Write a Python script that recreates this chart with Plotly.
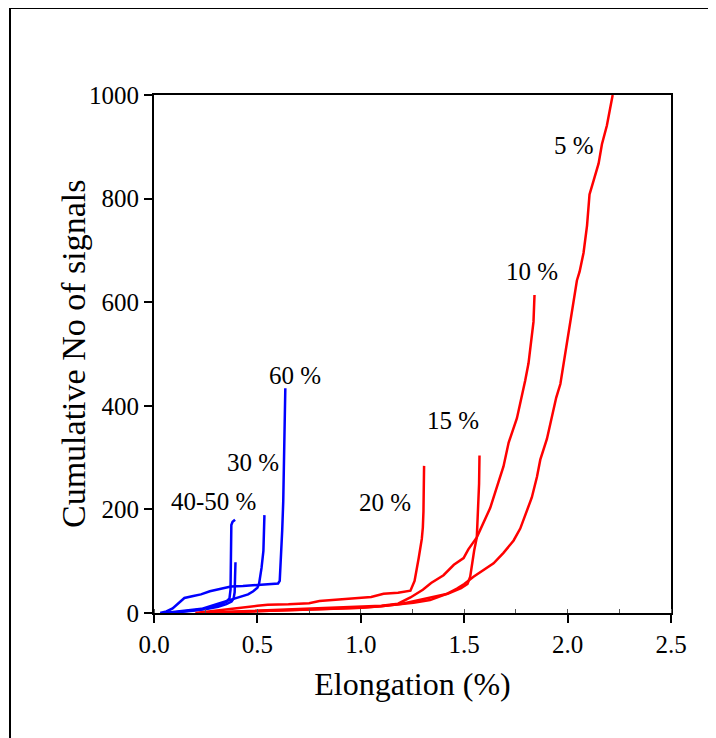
import plotly.graph_objects as go

# ---- data ----
x60 = [0.03, 0.06, 0.09, 0.115, 0.147, 0.19, 0.227, 0.27, 0.31, 0.372, 0.43, 0.50, 0.56, 0.60, 0.608, 0.615, 0.62, 0.625, 0.63, 0.635]
y60 = [0, 3, 9, 17, 29, 33, 36, 42, 46, 51, 52, 54, 55, 57, 62, 110, 160, 216, 377, 434]

x30 = [0.05, 0.1, 0.16, 0.23, 0.31, 0.36, 0.39, 0.42, 0.455, 0.48, 0.50, 0.508, 0.52, 0.529, 0.534]
y30 = [0, 2, 4, 8, 18, 24, 28, 32, 36, 42, 49, 56, 87, 120, 189]

x40 = [0.07, 0.12, 0.18, 0.23, 0.28, 0.32, 0.35, 0.365, 0.370, 0.372, 0.374, 0.38, 0.392]
y40 = [0, 2, 4, 7, 11, 16, 22, 28, 45, 100, 170, 176, 180]

x50 = [0.08, 0.14, 0.2, 0.26, 0.31, 0.35, 0.375, 0.385, 0.39, 0.392, 0.394]
y50 = [0, 2, 5, 8, 12, 17, 22, 28, 40, 70, 98]

x20 = [0.20, 0.25, 0.30, 0.40, 0.50, 0.55, 0.65, 0.75, 0.80, 0.86, 0.95, 1.05, 1.11, 1.18, 1.24, 1.26, 1.28, 1.295, 1.30, 1.303, 1.306]
y20 = [0, 2, 4, 9, 14, 16, 17, 19, 23, 25, 28, 31, 37, 39, 43, 62, 106, 143, 165, 196, 284]

x15 = [0.22, 0.4, 0.6, 0.8, 1.0, 1.1, 1.2, 1.27, 1.34, 1.42, 1.485, 1.516, 1.529, 1.538, 1.548, 1.561, 1.568, 1.572, 1.574]
y15 = [0, 2, 4, 7, 10, 13, 18, 24, 29, 37, 48, 56, 70, 95, 120, 146, 196, 250, 304]

x10 = [0.22, 0.4, 0.6, 0.8, 1.0, 1.1, 1.18, 1.24, 1.30, 1.34, 1.40, 1.45, 1.497, 1.52, 1.561, 1.626, 1.666, 1.69, 1.715, 1.755, 1.795, 1.811, 1.835, 1.839, 1.84]
y10 = [0, 3, 6, 9, 12, 14, 18, 30, 45, 58, 73, 93, 106, 123, 146, 203, 253, 283, 329, 376, 449, 482, 562, 600, 614]

x5 = [0.24, 0.4, 0.6, 0.8, 1.0, 1.094, 1.2, 1.255, 1.335, 1.416, 1.465, 1.5, 1.545, 1.594, 1.642, 1.69, 1.739, 1.771, 1.803, 1.827, 1.852, 1.868, 1.9, 1.924, 1.945, 1.965, 1.981, 2.005, 2.021, 2.045, 2.058, 2.077, 2.094, 2.106, 2.126, 2.15, 2.166, 2.19, 2.206, 2.218]
y5 = [0, 2, 4, 7, 10, 13, 17, 20, 25, 37, 47, 56, 70, 83, 96, 116, 140, 163, 196, 223, 263, 296, 336, 376, 416, 442, 482, 542, 582, 642, 659, 695, 748, 808, 835, 868, 905, 941, 975, 1000]

labels = ["60 %", "30 %", "40-50 %", "5 %", "10 %", "15 %", "20 %"]
label_x = [0.682, 0.479, 0.290, 2.031, 1.828, 1.446, 1.117]
label_y = [459, 290, 216, 902, 660, 371, 214]

x_ticks = [0.0, 0.5, 1.0, 1.5, 2.0, 2.5]
y_ticks = [0, 200, 400, 600, 800, 1000]

FONT = "Liberation Serif, Times New Roman, serif"
BLUE = "#0000FF"
RED = "#FF0000"

fig = go.Figure()
blue_series = [(x60, y60), (x30, y30), (x40, y40), (x50, y50)]
red_series = [(x20, y20), (x15, y15), (x10, y10), (x5, y5)]
for xs, ys in blue_series:
    fig.add_trace(go.Scatter(x=xs, y=ys, mode="lines", line=dict(color=BLUE, width=2.5), showlegend=False))
for xs, ys in red_series:
    fig.add_trace(go.Scatter(x=xs, y=ys, mode="lines", line=dict(color=RED, width=2.5), showlegend=False))

for t, lx, ly in zip(labels, label_x, label_y):
    fig.add_annotation(x=lx, y=ly, text=t, showarrow=False, xanchor="center", yanchor="middle",
                       font=dict(family=FONT, size=25, color="black"))

# y-axis title placed as an annotation for precise positioning
fig.add_annotation(xref="paper", yref="paper", x=(72 - 153) / 517, y=0.5,
                   text="Cumulative No of signals", textangle=-90, showarrow=False,
                   xanchor="center", yanchor="middle",
                   font=dict(family=FONT, size=34, color="black"))

fig.update_layout(
    width=716, height=738,
    margin=dict(l=146, r=53, t=87, b=133),
    plot_bgcolor="white", paper_bgcolor="white",
    font=dict(family=FONT, color="black"),
    showlegend=False,
    shapes=[dict(type="rect", xref="paper", yref="paper",
                 x0=(9 - 153) / 517, x1=(740 - 153) / 517,
                 y0=(612 - 760) / 518, y1=(612 - 7) / 518,
                 line=dict(color="black", width=2), fillcolor="rgba(0,0,0,0)", layer="below")],
)
fig.update_xaxes(
    range=[0, 2.5], tickvals=x_ticks, ticktext=[f"{v:.1f}" for v in x_ticks],
    showline=True, linecolor="black", linewidth=2, mirror=True,
    ticks="outside", ticklen=8, tickwidth=2, tickcolor="black",
    showgrid=False, zeroline=False,
    tickfont=dict(family=FONT, size=25, color="black"),
    title=dict(text="Elongation (%)", font=dict(family=FONT, size=32, color="black"), standoff=16),
    minor=dict(ticks="inside", dtick=0.25, ticklen=4, tickcolor="#555555", tickwidth=1, showgrid=False),
)
fig.update_yaxes(
    range=[0, 1000], tickvals=y_ticks, ticktext=[str(v) for v in y_ticks],
    showline=True, linecolor="black", linewidth=2, mirror=True,
    ticks="outside", ticklen=8, tickwidth=2, tickcolor="black",
    showgrid=False, zeroline=False,
    tickfont=dict(family=FONT, size=25, color="black"),
)

fig.write_html("out.html")
